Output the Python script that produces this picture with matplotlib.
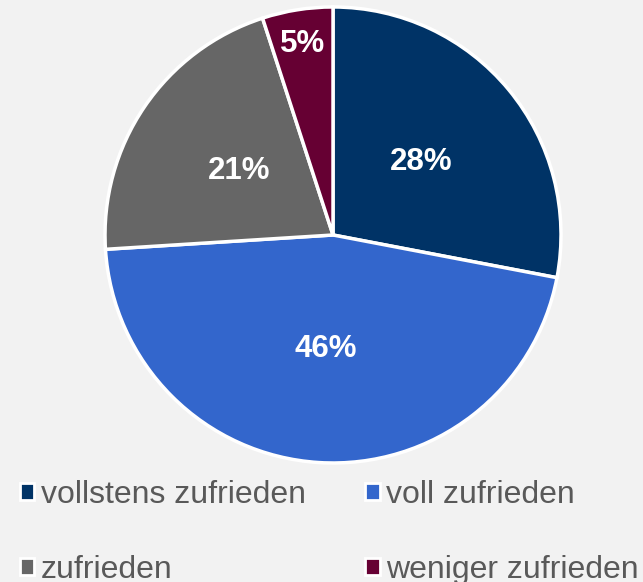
import matplotlib.pyplot as plt
from matplotlib.patches import Patch
import numpy as np

labels = ["vollstens zufrieden", "voll zufrieden", "zufrieden", "weniger zufrieden"]
values = [28, 46, 21, 5]
colors = ["#003366", "#3366cc", "#666666", "#660033"]

plt.rcParams["font.family"] = ["Liberation Sans", "DejaVu Sans"]

fig = plt.figure(figsize=(6.43, 5.82), dpi=100, facecolor="#f2f2f2")
ax = fig.add_axes([0.1633, 0.2045, 0.7092, 0.7835])
ax.set_facecolor("#f2f2f2")

wedges, _ = ax.pie(values, colors=colors, startangle=90, counterclock=False,
                   radius=1, wedgeprops=dict(edgecolor="white", linewidth=2.5))
ax.set_xlim(-1, 1)
ax.set_ylim(-1, 1)
ax.set_aspect("equal")
ax.axis("off")

# label positions along each slice's mid angle
dist = [0.5, 0.5, 0.5, 0.85]
for w, v, d in zip(wedges, values, dist):
    ang = np.deg2rad((w.theta1 + w.theta2) / 2)
    ax.text(d * np.cos(ang), d * np.sin(ang), f"{v}%", ha="center", va="center",
            color="white", fontsize=22.5, fontweight="bold")

order = [0, 2, 1, 3]
handles = [Patch(facecolor=colors[i], edgecolor="white", linewidth=2) for i in order]
leg = fig.legend(handles, [labels[i] for i in order], ncol=2, loc="upper left",
                 bbox_to_anchor=(0.011, 0.198), frameon=False, fontsize=23,
                 handlelength=0.45, handleheight=0.45, handletextpad=0.2,
                 labelspacing=1.42, columnspacing=1.87, borderaxespad=0)
for t in leg.get_texts():
    t.set_color("#595959")

fig.savefig("out.png", dpi=100, facecolor=fig.get_facecolor())
